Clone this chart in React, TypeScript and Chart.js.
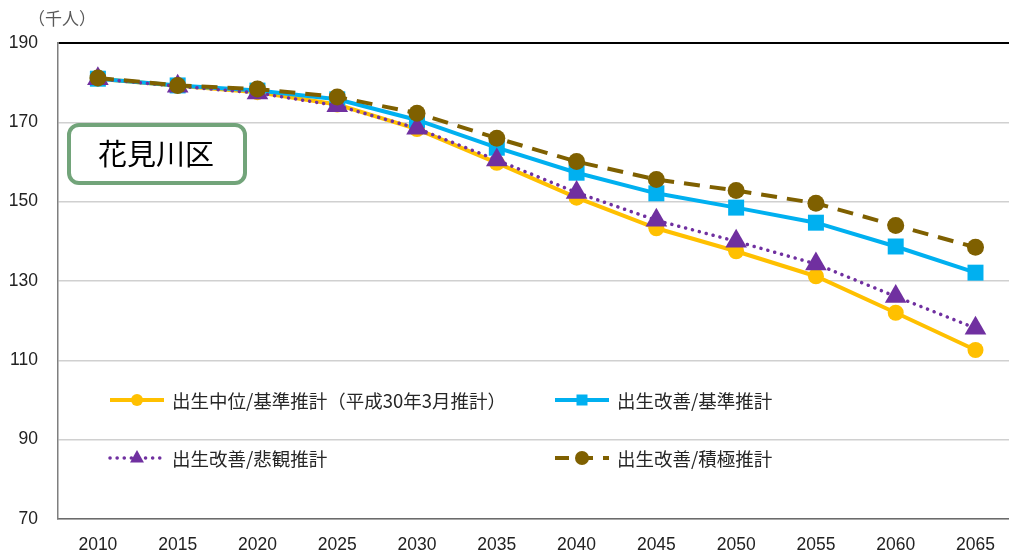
import React, { useEffect, useRef } from 'react';
import { Chart, registerables } from 'chart.js';

Chart.register(...registerables);

const years = [2010, 2015, 2020, 2025, 2030, 2035, 2040, 2045, 2050, 2055, 2060, 2065];
const yTickValues = [70, 90, 110, 130, 150, 170, 190];

const seriesBase = [181, 179.2, 177.6, 174.5, 168.3, 159.8, 151, 143.3, 137.5, 131.2, 122, 112.6];
const seriesImprovedBase = [181, 179.3, 178, 175.8, 170.6, 163.6, 157.3, 152.1, 148.5, 144.7, 138.7, 132.1];
const seriesImprovedPessimistic = [181, 179.1, 177.4, 174.2, 168.5, 160.5, 152.3, 145.3, 140, 134.3, 126.1, 118.1];
const seriesImprovedPositive = [181.2, 179.3, 178.4, 176.4, 172.3, 166, 160.1, 155.6, 152.8, 149.6, 144, 138.5];

const labels = [
  '出生中位/基準推計（平成30年3月推計）',
  '出生改善/基準推計',
  '出生改善/悲観推計',
  '出生改善/積極推計',
];
const unitLabel = '（千人）';
const wardName = '花見川区';

const COLORS = ['#FFC000', '#00B0F0', '#7030A0', '#7F6000'];
const NUM_FONT = "'Liberation Sans', Arial, sans-serif";
const JP_FONT = "'Noto Sans CJK JP', 'Noto Sans', sans-serif";

function drawMarker(ctx: CanvasRenderingContext2D, style: string, x: number, y: number, r: number, color: string) {
  ctx.save();
  ctx.fillStyle = color;
  ctx.beginPath();
  if (style === 'circle') {
    ctx.arc(x, y, r, 0, Math.PI * 2);
  } else if (style === 'rect') {
    ctx.rect(x - r, y - r, 2 * r, 2 * r);
  } else if (style === 'triangle') {
    ctx.moveTo(x, y - r);
    ctx.lineTo(x + r * 0.87, y + r * 0.55);
    ctx.lineTo(x - r * 0.87, y + r * 0.55);
    ctx.closePath();
  }
  ctx.fill();
  ctx.restore();
}

const legendPlugin = {
  id: 'customLegend',
  afterDatasetsDraw(chart: any) {
    const ctx: CanvasRenderingContext2D = chart.ctx;
    const items = [
      { i: 0, x: 110, y: 400, style: 'circle', r: 6, dash: [] as number[], cap: 'butt', w: 4 },
      { i: 1, x: 555, y: 400, style: 'rect', r: 5.5, dash: [] as number[], cap: 'butt', w: 4 },
      { i: 2, x: 110, y: 458, style: 'triangle', r: 8, dash: [0.1, 7], cap: 'round', w: 3.5 },
      { i: 3, x: 555, y: 458, style: 'circle', r: 7, dash: [14, 10], cap: 'butt', w: 4 },
    ];
    ctx.save();
    items.forEach((it) => {
      const color = COLORS[it.i];
      ctx.strokeStyle = color;
      ctx.lineWidth = it.w;
      ctx.setLineDash(it.dash);
      ctx.lineCap = it.cap as CanvasLineCap;
      ctx.beginPath();
      ctx.moveTo(it.x, it.y);
      ctx.lineTo(it.x + 54, it.y);
      ctx.stroke();
      ctx.setLineDash([]);
      drawMarker(ctx, it.style, it.x + 27, it.y, it.r, color);
      ctx.fillStyle = '#262626';
      ctx.font = `18.5px ${JP_FONT}`;
      ctx.textBaseline = 'middle';
      ctx.textAlign = 'left';
      ctx.fillText(labels[it.i], it.x + 62, it.y + 1);
    });
    ctx.restore();
  },
  afterDraw(chart: any) {
    const ctx: CanvasRenderingContext2D = chart.ctx;
    ctx.save();
    ctx.fillStyle = '#595959';
    ctx.font = `17px ${JP_FONT}`;
    ctx.textBaseline = 'middle';
    ctx.textAlign = 'left';
    ctx.fillText(unitLabel, 28, 19);
    ctx.beginPath();
    (ctx as any).roundRect(69, 125, 176, 58, 10);
    ctx.fillStyle = '#ffffff';
    ctx.fill();
    ctx.lineWidth = 4;
    ctx.strokeStyle = '#72A47A';
    ctx.stroke();
    ctx.fillStyle = '#000000';
    ctx.font = `29px ${JP_FONT}`;
    ctx.textAlign = 'center';
    ctx.textBaseline = 'middle';
    ctx.fillText(wardName, 156, 154);
    ctx.restore();
  },
};

function toPoints(values: number[]) {
  return values.map((v, i) => ({ x: years[i], y: v }));
}

export default function App() {
  const canvasRef = useRef<HTMLCanvasElement | null>(null);

  useEffect(() => {
    if (!canvasRef.current) return;
    const chart = new Chart(canvasRef.current, {
      type: 'line',
      data: {
        datasets: [
          {
            label: labels[0],
            data: toPoints(seriesBase),
            borderColor: COLORS[0],
            backgroundColor: COLORS[0],
            borderWidth: 4,
            pointStyle: 'circle',
            pointRadius: 8,
            pointBorderWidth: 0,
            order: 4,
          },
          {
            label: labels[1],
            data: toPoints(seriesImprovedBase),
            borderColor: COLORS[1],
            backgroundColor: COLORS[1],
            borderWidth: 4,
            pointStyle: 'rect',
            pointRadius: 11.3,
            pointBorderWidth: 0,
            order: 3,
          },
          {
            label: labels[2],
            data: toPoints(seriesImprovedPessimistic),
            borderColor: COLORS[2],
            backgroundColor: COLORS[2],
            borderWidth: 3.5,
            borderDash: [0.1, 7],
            borderCapStyle: 'round',
            pointStyle: 'triangle',
            pointRadius: 12.5,
            pointBorderWidth: 0,
            order: 2,
          },
          {
            label: labels[3],
            data: toPoints(seriesImprovedPositive),
            borderColor: COLORS[3],
            backgroundColor: COLORS[3],
            borderWidth: 4,
            borderDash: [16, 10],
            pointStyle: 'circle',
            pointRadius: 8.5,
            pointBorderWidth: 0,
            order: 1,
          },
        ] as any,
      },
      options: {
        animation: false,
        responsive: false,
        maintainAspectRatio: false,
        layout: { autoPadding: false, padding: { top: 43, left: 0, right: 0, bottom: 0 } },
        plugins: {
          legend: { display: false },
          tooltip: { enabled: false },
          title: { display: false },
        },
        elements: { line: { tension: 0 } },
        scales: {
          x: {
            type: 'linear',
            min: 2007.5,
            max: 2067.1,
            afterBuildTicks: (axis: any) => {
              axis.ticks = years.map((v) => ({ value: v }));
            },
            afterFit: (scale: any) => {
              scale.height = 36;
              scale.paddingLeft = 0;
              scale.paddingRight = 0;
            },
            grid: { display: false, drawTicks: false },
            border: { display: true, color: '#6b6b6b', width: 1.5 },
            ticks: {
              autoSkip: false,
              maxRotation: 0,
              padding: 16,
              color: '#222222',
              font: { family: NUM_FONT, size: 17.5 },
              callback: (v: any) => String(v),
            },
          },
          y: {
            type: 'linear',
            min: 70,
            max: 190,
            afterBuildTicks: (axis: any) => {
              axis.ticks = yTickValues.map((v) => ({ value: v }));
            },
            afterFit: (scale: any) => {
              scale.width = 58;
              scale.paddingTop = 0;
              scale.paddingBottom = 0;
            },
            grid: {
              drawTicks: false,
              color: (c: any) => (c.tick && c.tick.value === 190 ? '#000000' : '#d0d0d0'),
              lineWidth: (c: any) => (c.tick && c.tick.value === 190 ? 2 : 1.5),
            },
            border: { display: true, color: '#7f7f7f', width: 1.5 },
            ticks: {
              padding: 20,
              color: '#222222',
              font: { family: NUM_FONT, size: 17.5 },
              callback: (v: any) => String(v),
            },
          },
        },
      } as any,
      plugins: [legendPlugin],
    });
    return () => chart.destroy();
  }, []);

  return (
    <div style={{ position: 'fixed', left: 0, top: 0, width: 1009, height: 555, background: '#ffffff' }}>
      <canvas ref={canvasRef} width={1009} height={555} style={{ display: 'block', width: 1009, height: 555 }} />
    </div>
  );
}
